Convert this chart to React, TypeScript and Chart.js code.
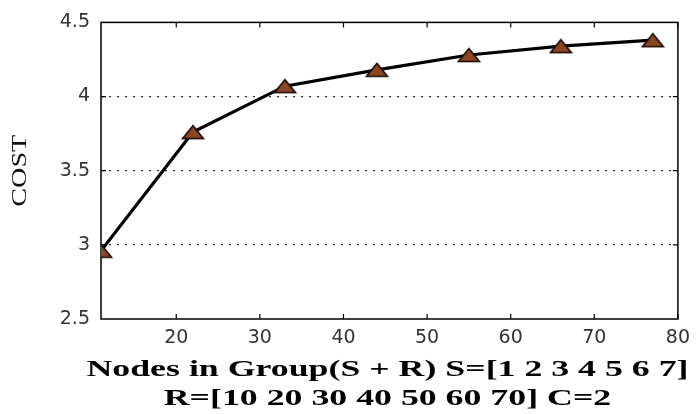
import React, { useEffect, useRef } from "react";
import { Chart, registerables } from "chart.js";

Chart.register(...registerables);

const xValues = [11, 22, 33, 44, 55, 66, 77];
const costValues = [2.96, 3.76, 4.07, 4.18, 4.28, 4.34, 4.38];
const xTickValues = [20, 30, 40, 50, 60, 70, 80];
const yTickValues = [2.5, 3, 3.5, 4, 4.5];
const yGridValues = [3, 3.5, 4];
const xTitleLines = ["Nodes in Group(S + R) S=[1 2 3 4 5 6 7]", "R=[10 20 30 40 50 60 70] C=2"];
const yTitle = "COST";

function makeMarker(): HTMLCanvasElement {
  const c = document.createElement("canvas");
  const w = 24;
  const h = 16;
  c.width = w;
  c.height = h;
  const ctx = c.getContext("2d")!;
  ctx.beginPath();
  ctx.moveTo(w / 2, 1.5);
  ctx.lineTo(w - 1.5, h - 1.5);
  ctx.lineTo(1.5, h - 1.5);
  ctx.closePath();
  ctx.fillStyle = "#8a4522";
  ctx.fill();
  ctx.lineWidth = 1.6;
  ctx.strokeStyle = "#1a0a04";
  ctx.stroke();
  return c;
}

const framePlugin = {
  id: "frame",
  beforeDatasetsDraw(chart: any) {
    const { ctx, chartArea } = chart;
    const { left, right, top, bottom } = chartArea;
    const xs = chart.scales.x;
    const ys = chart.scales.y;
    ctx.save();
    ctx.strokeStyle = "#000";
    ctx.lineWidth = 1.5;
    ctx.strokeRect(left, top, right - left, bottom - top);
    ctx.lineWidth = 1.2;
    ctx.beginPath();
    const tl = 5;
    for (const v of xTickValues) {
      const px = xs.getPixelForValue(v);
      ctx.moveTo(px, bottom);
      ctx.lineTo(px, bottom - tl);
      ctx.moveTo(px, top);
      ctx.lineTo(px, top + tl);
    }
    for (const v of yGridValues) {
      const py = ys.getPixelForValue(v);
      ctx.moveTo(left, py);
      ctx.lineTo(left + tl, py);
      ctx.moveTo(right, py);
      ctx.lineTo(right - tl, py);
    }
    ctx.stroke();
    ctx.restore();
  },
  afterDraw(chart: any) {
    const { ctx, chartArea } = chart;
    const { left, right, top, bottom } = chartArea;
    ctx.save();
    ctx.fillStyle = "#000";
    ctx.textAlign = "center";
    ctx.textBaseline = "middle";
    // x-axis title (two lines, horizontally widened like the reference)
    ctx.font = "bold 23px 'Liberation Serif'";
    const w1 = ctx.measureText(xTitleLines[0]).width;
    const sx = 602 / w1;
    const cx = (left + right) / 2 - 2;
    const lineYs = [bottom + 51, bottom + 80.5];
    xTitleLines.forEach((line, i) => {
      ctx.save();
      ctx.translate(cx, lineYs[i]);
      ctx.scale(sx, 1);
      ctx.fillText(line, 0, 0);
      ctx.restore();
    });
    // y-axis title
    ctx.font = "21px 'Liberation Serif'";
    ctx.fillStyle = "#111";
    const wy = ctx.measureText(yTitle).width;
    const sy = 72 / wy;
    ctx.translate(20, (top + bottom) / 2);
    ctx.rotate(-Math.PI / 2);
    ctx.scale(sy, 1);
    ctx.fillText(yTitle, 0, 0);
    ctx.restore();
  },
};

export default function App() {
  const ref = useRef<HTMLCanvasElement | null>(null);
  useEffect(() => {
    document.body.style.margin = "0";
    const marker = makeMarker();
    const chart = new Chart(ref.current!, {
      type: "line",
      data: {
        datasets: [
          {
            data: xValues.map((x, i) => ({ x, y: costValues[i] })),
            borderColor: "#000",
            borderWidth: 3.2,
            pointStyle: marker as any,
            pointRadius: 8,
            fill: false,
            tension: 0,
          },
        ],
      },
      options: {
        animation: false,
        responsive: false,
        maintainAspectRatio: false,
        layout: { padding: { top: 20, right: 13, left: 0, bottom: 0 } },
        plugins: { legend: { display: false }, tooltip: { enabled: false } },
        scales: {
          x: {
            type: "linear",
            min: 11,
            max: 80,
            afterBuildTicks: (s: any) => {
              s.ticks = xTickValues.map((v) => ({ value: v }));
            },
            afterFit: (s: any) => {
              s.height = 95;
            },
            grid: { display: false, drawTicks: false },
            border: { display: false },
            ticks: {
              color: "#333",
              padding: 8,
              maxRotation: 0,
              font: { family: "DejaVu Sans", size: 19 },
              callback: (v: any) => String(v),
            },
            title: { display: false },
          },
          y: {
            type: "linear",
            min: 2.5,
            max: 4.5,
            afterBuildTicks: (s: any) => {
              s.ticks = yTickValues.map((v) => ({ value: v }));
            },
            afterFit: (s: any) => {
              s.width = 101;
            },
            grid: {
              drawTicks: false,
              color: (c: any) => (yGridValues.includes(c.tick?.value) ? "#333" : "rgba(0,0,0,0)"),
              lineWidth: 1.2,
            },
            border: { display: false, dash: [2, 6] },
            ticks: {
              color: "#333",
              padding: 11,
              font: { family: "DejaVu Sans", size: 19 },
              callback: (v: any) => String(v),
            },
            title: { display: false },
          },
        },
      },
      plugins: [framePlugin],
    });
    return () => chart.destroy();
  }, []);
  return (
    <div style={{ position: "fixed", left: 0, top: 0, width: 698, height: 414, background: "#fff" }}>
      <canvas ref={ref} width={698} height={414} style={{ width: 698, height: 414 }} />
    </div>
  );
}
